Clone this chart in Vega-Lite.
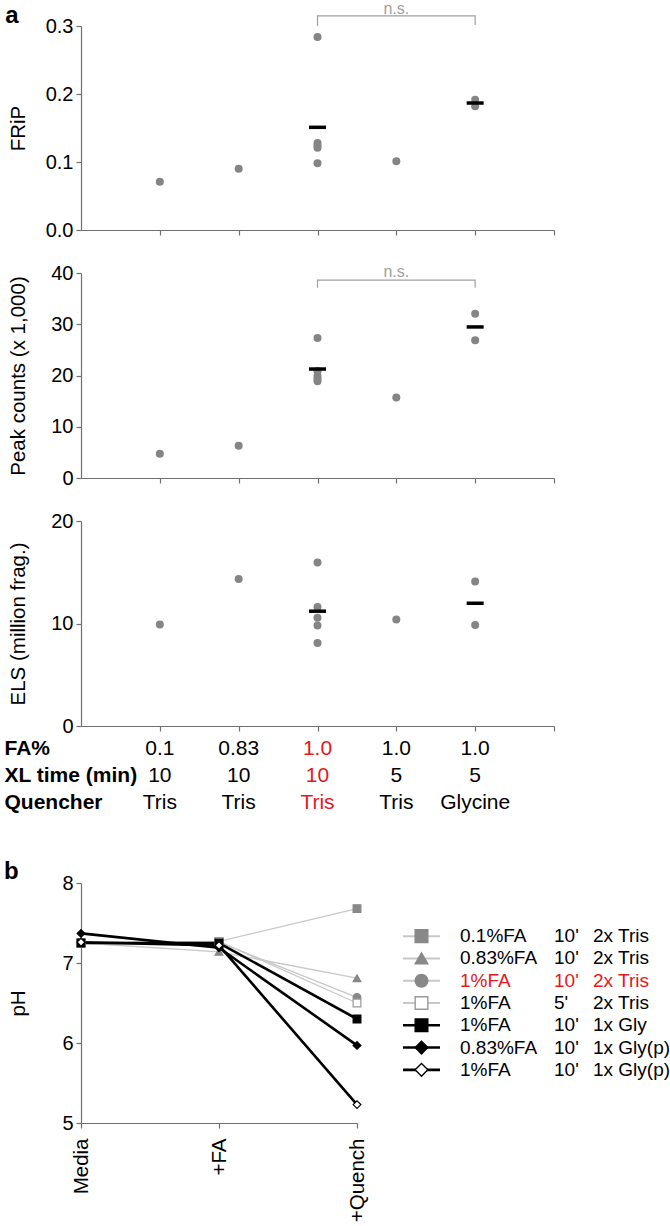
{
  "$schema": "https://vega.github.io/schema/vega-lite/v6.json",
  "background": "white",
  "padding": {"left": 3, "top": 1, "right": 0, "bottom": 0},
  "config": {
    "font": "Liberation Sans",
    "view": {"stroke": null},
    "axis": {
      "domainColor": "#707070", "tickColor": "#707070", "domainWidth": 1.2, "tickWidth": 1.2,
      "tickSize": 5, "labelColor": "#000000", "labelFontSize": 20, "labelPadding": 3,
      "titleFontSize": 20.5, "titleFontWeight": "normal", "titleColor": "#000000", "grid": false,
      "labelFont": "Liberation Sans", "titleFont": "Liberation Sans"
    },
    "title": {"fontSize": 24, "fontWeight": "bold", "anchor": "start", "frame": "bounds", "color": "#000000"}
  },
  "datasets": {
    "a": [
      {"m": "FRiP", "x": 1, "v": 0.071},
      {"m": "FRiP", "x": 2, "v": 0.090},
      {"m": "FRiP", "x": 3, "v": 0.284},
      {"m": "FRiP", "x": 3, "v": 0.128},
      {"m": "FRiP", "x": 3, "v": 0.124},
      {"m": "FRiP", "x": 3, "v": 0.121},
      {"m": "FRiP", "x": 3, "v": 0.098},
      {"m": "FRiP", "x": 4, "v": 0.101},
      {"m": "FRiP", "x": 5, "v": 0.1915},
      {"m": "FRiP", "x": 5, "v": 0.182},
      {"m": "Peak", "x": 1, "v": 4.75},
      {"m": "Peak", "x": 2, "v": 6.3},
      {"m": "Peak", "x": 3, "v": 27.3},
      {"m": "Peak", "x": 3, "v": 20.9},
      {"m": "Peak", "x": 3, "v": 19.9},
      {"m": "Peak", "x": 3, "v": 19.3},
      {"m": "Peak", "x": 3, "v": 18.9},
      {"m": "Peak", "x": 4, "v": 15.7},
      {"m": "Peak", "x": 5, "v": 32.05},
      {"m": "Peak", "x": 5, "v": 26.9},
      {"m": "ELS", "x": 1, "v": 9.9},
      {"m": "ELS", "x": 2, "v": 14.35},
      {"m": "ELS", "x": 3, "v": 15.95},
      {"m": "ELS", "x": 3, "v": 11.6},
      {"m": "ELS", "x": 3, "v": 10.55},
      {"m": "ELS", "x": 3, "v": 9.8},
      {"m": "ELS", "x": 3, "v": 8.1},
      {"m": "ELS", "x": 4, "v": 10.4},
      {"m": "ELS", "x": 5, "v": 14.1},
      {"m": "ELS", "x": 5, "v": 9.85}
    ],
    "tbl": [
      {"x": 1, "fa": "0.1", "xl": "10", "q": "Tris"},
      {"x": 2, "fa": "0.83", "xl": "10", "q": "Tris"},
      {"x": 3, "fa": "1.0", "xl": "10", "q": "Tris"},
      {"x": 4, "fa": "1.0", "xl": "5", "q": "Tris"},
      {"x": 5, "fa": "1.0", "xl": "5", "q": "Glycine"}
    ],
    "ph": [
      {"s": "0.1%FA 10' 2x Tris", "step": "Media", "pH": 7.25},
      {"s": "0.1%FA 10' 2x Tris", "step": "+FA", "pH": 7.27},
      {"s": "0.1%FA 10' 2x Tris", "step": "+Quench", "pH": 7.68},
      {"s": "0.83%FA 10' 2x Tris", "step": "Media", "pH": 7.25},
      {"s": "0.83%FA 10' 2x Tris", "step": "+FA", "pH": 7.14},
      {"s": "0.83%FA 10' 2x Tris", "step": "+Quench", "pH": 6.81},
      {"s": "1%FA 10' 2x Tris", "step": "Media", "pH": 7.25},
      {"s": "1%FA 10' 2x Tris", "step": "+FA", "pH": 7.26},
      {"s": "1%FA 10' 2x Tris", "step": "+Quench", "pH": 6.57},
      {"s": "1%FA 5' 2x Tris", "step": "Media", "pH": 7.25},
      {"s": "1%FA 5' 2x Tris", "step": "+FA", "pH": 7.27},
      {"s": "1%FA 5' 2x Tris", "step": "+Quench", "pH": 6.5},
      {"s": "1%FA 10' 1x Gly", "step": "Media", "pH": 7.25},
      {"s": "1%FA 10' 1x Gly", "step": "+FA", "pH": 7.25},
      {"s": "1%FA 10' 1x Gly", "step": "+Quench", "pH": 6.3},
      {"s": "0.83%FA 10' 1x Gly(p)", "step": "Media", "pH": 7.37},
      {"s": "0.83%FA 10' 1x Gly(p)", "step": "+FA", "pH": 7.19},
      {"s": "0.83%FA 10' 1x Gly(p)", "step": "+Quench", "pH": 5.97},
      {"s": "1%FA 10' 1x Gly(p)", "step": "Media", "pH": 7.26},
      {"s": "1%FA 10' 1x Gly(p)", "step": "+FA", "pH": 7.22},
      {"s": "1%FA 10' 1x Gly(p)", "step": "+Quench", "pH": 5.23}
    ],
    "leg": [
      {"s": "0.1%FA 10' 2x Tris", "fa": "0.1%FA", "t": "10'", "q": "2x Tris"},
      {"s": "0.83%FA 10' 2x Tris", "fa": "0.83%FA", "t": "10'", "q": "2x Tris"},
      {"s": "1%FA 10' 2x Tris", "fa": "1%FA", "t": "10'", "q": "2x Tris"},
      {"s": "1%FA 5' 2x Tris", "fa": "1%FA", "t": "5'", "q": "2x Tris"},
      {"s": "1%FA 10' 1x Gly", "fa": "1%FA", "t": "10'", "q": "1x Gly"},
      {"s": "0.83%FA 10' 1x Gly(p)", "fa": "0.83%FA", "t": "10'", "q": "1x Gly(p)"},
      {"s": "1%FA 10' 1x Gly(p)", "fa": "1%FA", "t": "10'", "q": "1x Gly(p)"}
    ]
  },
  "spacing": 7,
  "bounds": "flush",
  "vconcat": [
    {
      "width": 473, "height": 204,
      "title": {"text": "a", "dx": -3, "dy": 31},
      "layer": [
        {
          "data": {"name": "a"},
          "transform": [{"filter": "datum.m === 'FRiP'"}],
          "mark": {"type": "circle", "size": 64, "color": "#858585", "opacity": 1},
          "encoding": {
            "x": {"field": "x", "type": "quantitative", "title": null, "scale": {"domain": [0, 6], "nice": false}, "axis": {"values": [1, 2, 3, 4, 5, 6], "labels": false}},
            "y": {"field": "v", "type": "quantitative", "title": "FRiP", "scale": {"domain": [0, 0.3], "nice": false}, "axis": {"values": [0, 0.1, 0.2, 0.3], "format": ".1f", "titlePadding": 17}}
          }
        },
        {
          "data": {"name": "a"},
          "transform": [
            {"filter": "datum.m === 'FRiP'"},
            {"joinaggregate": [{"op": "count", "as": "n"}], "groupby": ["x"]},
            {"filter": "datum.n > 1"}
          ],
          "mark": {"type": "tick", "orient": "horizontal", "size": 17, "thickness": 3.5, "color": "#000000", "opacity": 1},
          "encoding": {
            "x": {"field": "x", "type": "quantitative", "title": null},
            "y": {"aggregate": "mean", "field": "v", "type": "quantitative", "title": "FRiP"}
          }
        },
        {
          "data": {"values": [{"x": 3, "v": 0.3, "i": 1}, {"x": 3, "v": 0.315, "i": 2}, {"x": 5, "v": 0.315, "i": 3}, {"x": 5, "v": 0.3015, "i": 4}]},
          "mark": {"type": "line", "color": "#a0a0a0", "strokeWidth": 1.2},
          "encoding": {
            "x": {"field": "x", "type": "quantitative", "title": null},
            "y": {"field": "v", "type": "quantitative", "title": "FRiP"},
            "order": {"field": "i"}
          }
        },
        {
          "data": {"values": [{"x": 4, "v": 0.3172, "t": "n.s."}]},
          "mark": {"type": "text", "fontSize": 16, "color": "#a0a0a0", "baseline": "alphabetic"},
          "encoding": {
            "x": {"field": "x", "type": "quantitative", "title": null},
            "y": {"field": "v", "type": "quantitative", "title": "FRiP"},
            "text": {"field": "t"}
          }
        }
      ]
    },
    {
      "width": 473, "height": 241,
      "layer": [
        {
          "data": {"name": "a"},
          "transform": [{"filter": "datum.m === 'Peak'"}],
          "mark": {"type": "circle", "size": 64, "color": "#858585", "opacity": 1},
          "encoding": {
            "x": {"field": "x", "type": "quantitative", "title": null, "scale": {"domain": [0, 6], "nice": false}, "axis": {"values": [1, 2, 3, 4, 5, 6], "labels": false}},
            "y": {"field": "v", "type": "quantitative", "title": "Peak counts (x 1,000)", "scale": {"domain": [0, 40], "nice": false, "range": [241, 36]}, "axis": {"values": [0, 10, 20, 30, 40], "titlePadding": 22}}
          }
        },
        {
          "data": {"name": "a"},
          "transform": [
            {"filter": "datum.m === 'Peak'"},
            {"joinaggregate": [{"op": "count", "as": "n"}], "groupby": ["x"]},
            {"filter": "datum.n > 1"}
          ],
          "mark": {"type": "tick", "orient": "horizontal", "size": 17, "thickness": 3.5, "color": "#000000", "opacity": 1},
          "encoding": {
            "x": {"field": "x", "type": "quantitative", "title": null},
            "y": {"aggregate": "mean", "field": "v", "type": "quantitative", "title": "Peak counts (x 1,000)"}
          }
        },
        {
          "data": {"values": [{"x": 3, "v": 37.1, "i": 1}, {"x": 3, "v": 38.6, "i": 2}, {"x": 5, "v": 38.6, "i": 3}, {"x": 5, "v": 37.1, "i": 4}]},
          "mark": {"type": "line", "color": "#a0a0a0", "strokeWidth": 1.2},
          "encoding": {
            "x": {"field": "x", "type": "quantitative", "title": null},
            "y": {"field": "v", "type": "quantitative", "title": "Peak counts (x 1,000)"},
            "order": {"field": "i"}
          }
        },
        {
          "data": {"values": [{"x": 4, "v": 39.2, "t": "n.s."}]},
          "mark": {"type": "text", "fontSize": 16, "color": "#a0a0a0", "baseline": "alphabetic"},
          "encoding": {
            "x": {"field": "x", "type": "quantitative", "title": null},
            "y": {"field": "v", "type": "quantitative", "title": "Peak counts (x 1,000)"},
            "text": {"field": "t"}
          }
        }
      ]
    },
    {
      "width": 473, "height": 241,
      "layer": [
        {
          "data": {"name": "a"},
          "transform": [{"filter": "datum.m === 'ELS'"}],
          "mark": {"type": "circle", "size": 64, "color": "#858585", "opacity": 1},
          "encoding": {
            "x": {"field": "x", "type": "quantitative", "title": null, "scale": {"domain": [0, 6], "nice": false}, "axis": {"values": [1, 2, 3, 4, 5, 6], "labels": false}},
            "y": {"field": "v", "type": "quantitative", "title": "ELS (million frag.)", "scale": {"domain": [0, 20], "nice": false, "range": [241, 36]}, "axis": {"values": [0, 10, 20], "titlePadding": 22}}
          }
        },
        {
          "data": {"name": "a"},
          "transform": [
            {"filter": "datum.m === 'ELS'"},
            {"joinaggregate": [{"op": "count", "as": "n"}], "groupby": ["x"]},
            {"filter": "datum.n > 1"}
          ],
          "mark": {"type": "tick", "orient": "horizontal", "size": 17, "thickness": 3.5, "color": "#000000", "opacity": 1},
          "encoding": {
            "x": {"field": "x", "type": "quantitative", "title": null},
            "y": {"aggregate": "mean", "field": "v", "type": "quantitative", "title": "ELS (million frag.)"}
          }
        }
      ]
    },
    {
      "width": 473, "height": 143,
      "data": {"name": "tbl"},
      "transform": [{"fold": ["fa", "xl", "q"], "as": ["row", "val"]}],
      "mark": {"type": "text", "fontSize": 21, "baseline": "middle"},
      "encoding": {
        "x": {"field": "x", "type": "quantitative", "scale": {"domain": [0, 6], "nice": false}, "axis": null},
        "y": {"field": "row", "type": "ordinal", "scale": {"type": "point", "domain": ["fa", "xl", "q"], "padding": 0, "range": [15.5, 69.5]},
              "axis": {"title": null, "domain": false, "ticks": false, "labelAlign": "left", "labelPadding": 77, "labelFontWeight": "bold", "labelFontSize": 21,
                       "labelExpr": "datum.value === 'fa' ? 'FA%' : datum.value === 'xl' ? 'XL time (min)' : 'Quencher'"}},
        "text": {"field": "val"},
        "color": {"condition": {"test": "datum.x === 3", "value": "#e3191c"}, "value": "#000000"}
      }
    },
    {
      "spacing": 46,
      "bounds": "flush",
      "hconcat": [
        {
          "width": 276, "height": 240,
          "title": {"text": "b", "dx": -5, "dy": 15},
          "data": {"name": "ph"},
          "encoding": {
            "x": {"field": "step", "type": "ordinal", "title": null, "scale": {"type": "point", "domain": ["Media", "+FA", "+Quench"], "padding": 0},
                  "axis": {"labelAngle": 270, "labelAlign": "right", "labelBaseline": "middle", "labelPadding": 10, "labelFontSize": 20.5}},
            "y": {"field": "pH", "type": "quantitative", "title": "pH", "scale": {"domain": [5, 8], "nice": false}, "axis": {"values": [5, 6, 7, 8], "titlePadding": 33}}
          },
          "layer": [
            {
              "transform": [{"filter": "indexof(datum.s, 'Gly') < 0"}],
              "mark": {"type": "line", "color": "#c8c8c8", "strokeWidth": 1.3},
              "encoding": {"detail": {"field": "s", "type": "nominal"}}
            },
            {
              "transform": [{"filter": "indexof(datum.s, 'Gly') >= 0"}],
              "mark": {"type": "line", "color": "#000000", "strokeWidth": 2.6},
              "encoding": {"detail": {"field": "s", "type": "nominal"}}
            },
            {
              "mark": {"type": "point", "size": 60, "opacity": 1, "strokeWidth": 1.2},
              "encoding": {
                "shape": {"field": "s", "type": "nominal", "legend": null, "scale": {"domain": ["0.1%FA 10' 2x Tris", "0.83%FA 10' 2x Tris", "1%FA 10' 2x Tris", "1%FA 5' 2x Tris", "1%FA 10' 1x Gly", "0.83%FA 10' 1x Gly(p)", "1%FA 10' 1x Gly(p)"], "range": ["square", "triangle-up", "circle", "square", "square", "diamond", "diamond"]}},
                "fill": {"field": "s", "type": "nominal", "legend": null, "scale": {"domain": ["0.1%FA 10' 2x Tris", "0.83%FA 10' 2x Tris", "1%FA 10' 2x Tris", "1%FA 5' 2x Tris", "1%FA 10' 1x Gly", "0.83%FA 10' 1x Gly(p)", "1%FA 10' 1x Gly(p)"], "range": ["#888888", "#888888", "#888888", "#ffffff", "#000000", "#000000", "#ffffff"]}},
                "stroke": {"field": "s", "type": "nominal", "legend": null, "scale": {"domain": ["0.1%FA 10' 2x Tris", "0.83%FA 10' 2x Tris", "1%FA 10' 2x Tris", "1%FA 5' 2x Tris", "1%FA 10' 1x Gly", "0.83%FA 10' 1x Gly(p)", "1%FA 10' 1x Gly(p)"], "range": ["#888888", "#888888", "#888888", "#999999", "#000000", "#000000", "#000000"]}}
              }
            }
          ]
        },
        {
          "spacing": 20,
          "bounds": "flush",
          "hconcat": [
            {
              "width": 37, "height": 240,
              "data": {"name": "leg"},
              "encoding": {
                "y": {"field": "s", "type": "nominal", "axis": null, "scale": {"type": "band", "domain": ["0.1%FA 10' 2x Tris", "0.83%FA 10' 2x Tris", "1%FA 10' 2x Tris", "1%FA 5' 2x Tris", "1%FA 10' 1x Gly", "0.83%FA 10' 1x Gly(p)", "1%FA 10' 1x Gly(p)"], "paddingInner": 0, "paddingOuter": 0, "range": [42, 198]}}
              },
              "layer": [
                {
                  "transform": [{"filter": "indexof(datum.s, 'Gly') < 0"}],
                  "mark": {"type": "rule", "color": "#c8c8c8", "strokeWidth": 2},
                  "encoding": {}
                },
                {
                  "transform": [{"filter": "indexof(datum.s, 'Gly') >= 0"}],
                  "mark": {"type": "rule", "color": "#000000", "strokeWidth": 2.6},
                  "encoding": {}
                },
                {
                  "mark": {"type": "point", "size": 160, "opacity": 1, "strokeWidth": 1.4},
                  "encoding": {
                    "shape": {"field": "s", "type": "nominal", "legend": null},
                    "fill": {"field": "s", "type": "nominal", "legend": null},
                    "stroke": {"field": "s", "type": "nominal", "legend": null}
                  }
                }
              ]
            },
            {
              "width": 74, "height": 240,
              "data": {"name": "leg"},
              "mark": {"type": "text", "fontSize": 19, "align": "left", "baseline": "middle"},
              "encoding": {
                "x": {"datum": 0, "type": "quantitative", "scale": {"domain": [0, 1]}, "axis": null},
                "y": {"field": "s", "type": "nominal", "axis": null, "scale": {"type": "band", "domain": ["0.1%FA 10' 2x Tris", "0.83%FA 10' 2x Tris", "1%FA 10' 2x Tris", "1%FA 5' 2x Tris", "1%FA 10' 1x Gly", "0.83%FA 10' 1x Gly(p)", "1%FA 10' 1x Gly(p)"], "paddingInner": 0, "paddingOuter": 0, "range": [42, 198]}},
                "text": {"field": "fa"},
                "color": {"condition": {"test": "datum.s === \"1%FA 10' 2x Tris\"", "value": "#e3191c"}, "value": "#000000"}
              }
            },
            {
              "width": 19, "height": 240,
              "data": {"name": "leg"},
              "mark": {"type": "text", "fontSize": 19, "align": "left", "baseline": "middle"},
              "encoding": {
                "x": {"datum": 0, "type": "quantitative", "scale": {"domain": [0, 1]}, "axis": null},
                "y": {"field": "s", "type": "nominal", "axis": null, "scale": {"type": "band", "domain": ["0.1%FA 10' 2x Tris", "0.83%FA 10' 2x Tris", "1%FA 10' 2x Tris", "1%FA 5' 2x Tris", "1%FA 10' 1x Gly", "0.83%FA 10' 1x Gly(p)", "1%FA 10' 1x Gly(p)"], "paddingInner": 0, "paddingOuter": 0, "range": [42, 198]}},
                "text": {"field": "t"},
                "color": {"condition": {"test": "datum.s === \"1%FA 10' 2x Tris\"", "value": "#e3191c"}, "value": "#000000"}
              }
            },
            {
              "width": 76, "height": 240,
              "data": {"name": "leg"},
              "mark": {"type": "text", "fontSize": 19, "align": "left", "baseline": "middle"},
              "encoding": {
                "x": {"datum": 0, "type": "quantitative", "scale": {"domain": [0, 1]}, "axis": null},
                "y": {"field": "s", "type": "nominal", "axis": null, "scale": {"type": "band", "domain": ["0.1%FA 10' 2x Tris", "0.83%FA 10' 2x Tris", "1%FA 10' 2x Tris", "1%FA 5' 2x Tris", "1%FA 10' 1x Gly", "0.83%FA 10' 1x Gly(p)", "1%FA 10' 1x Gly(p)"], "paddingInner": 0, "paddingOuter": 0, "range": [42, 198]}},
                "text": {"field": "q"},
                "color": {"condition": {"test": "datum.s === \"1%FA 10' 2x Tris\"", "value": "#e3191c"}, "value": "#000000"}
              }
            }
          ]
        }
      ]
    }
  ]
}
